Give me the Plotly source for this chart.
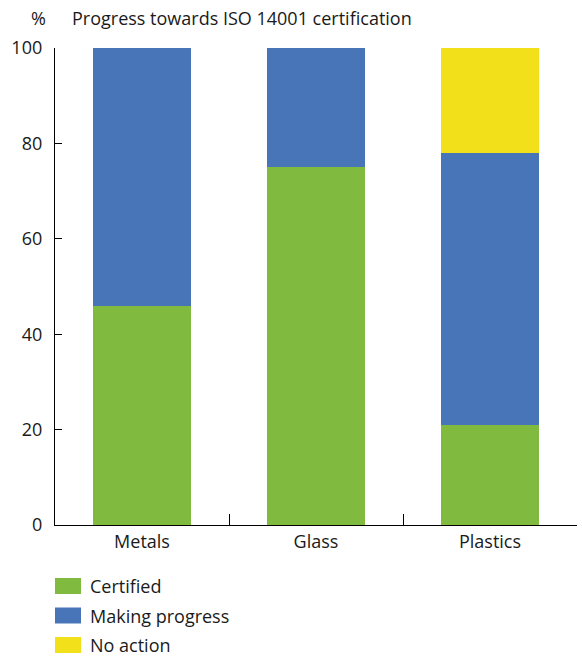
import plotly.graph_objects as go

# Share of sites at each stage of ISO 14001 certification, by sector (%)
categories = ["Metals", "Glass", "Plastics"]
series_names = ["Certified", "Making progress", "No action"]
certified = [46, 75, 21]
making_progress = [54, 25, 57]
no_action = [0, 0, 22]
series_values = [certified, making_progress, no_action]
series_colors = ["#80BB3F", "#4874B8", "#F2E11A"]
y_ticks = [0, 20, 40, 60, 80, 100]

W, H = 582, 657
M_L, M_R, M_T, M_B = 55, 5, 48, 132
PLOT_H = H - M_T - M_B
PLOT_W = W - M_L - M_R
FONT = "Open Sans"
FS = 18
TXT = "#1a1a1a"

fig = go.Figure()
for name, vals, col in zip(series_names, series_values, series_colors):
    fig.add_trace(go.Bar(
        x=categories, y=vals, name=name,
        marker=dict(color=col, line=dict(width=0)),
        showlegend=False,
    ))


def py(pix):
    # pixel row -> paper y
    return (H - M_B - pix) / PLOT_H


def px(pix):
    # pixel column -> paper x
    return (pix - M_L) / PLOT_W


shapes = []
annotations = []

# Legend: swatch + label for each series
legend_top = 578
for i, (name, col) in enumerate(zip(series_names, series_colors)):
    top = legend_top + 29.5 * i
    shapes.append(dict(
        type="rect", xref="paper", yref="paper",
        x0=px(55), x1=px(81), y0=py(top + 16), y1=py(top),
        fillcolor=col, line=dict(width=0),
    ))
    annotations.append(dict(
        xref="paper", yref="paper", x=px(88), y=py(top + 8),
        xanchor="left", yanchor="middle", showarrow=False,
        text=name, font=dict(family=FONT, size=FS, color=TXT),
    ))

# Title row
annotations.append(dict(
    xref="paper", yref="paper", x=px(48), y=py(18),
    xanchor="right", yanchor="middle", showarrow=False,
    text="%", font=dict(family=FONT, size=FS, color=TXT),
))
annotations.append(dict(
    xref="paper", yref="paper", x=px(70), y=py(18),
    xanchor="left", yanchor="middle", showarrow=False,
    text="Progress towards ISO 14001 certification",
    font=dict(family=FONT, size=FS, color=TXT),
))

fig.update_layout(
    width=W, height=H,
    margin=dict(l=M_L, r=M_R, t=M_T, b=M_B),
    barmode="stack",
    bargap=0.437,
    plot_bgcolor="white", paper_bgcolor="white",
    font=dict(family=FONT, size=FS, color=TXT),
    shapes=shapes, annotations=annotations,
    xaxis=dict(
        showline=True, linecolor="black", linewidth=1.3,
        ticks="inside", tickson="boundaries", ticklen=11,
        tickcolor="black", tickwidth=1.3,
        showgrid=False, zeroline=False,
        tickfont=dict(family=FONT, size=FS, color=TXT),
    ),
    yaxis=dict(
        range=[0, 100], tickvals=y_ticks,
        showline=True, linecolor="black", linewidth=1.3,
        ticks="inside", ticklen=7, tickcolor="black", tickwidth=1.3,
        showgrid=False, zeroline=False,
        ticklabelstandoff=8,
        tickfont=dict(family=FONT, size=FS, color=TXT),
    ),
)

fig.write_html("out.html")
